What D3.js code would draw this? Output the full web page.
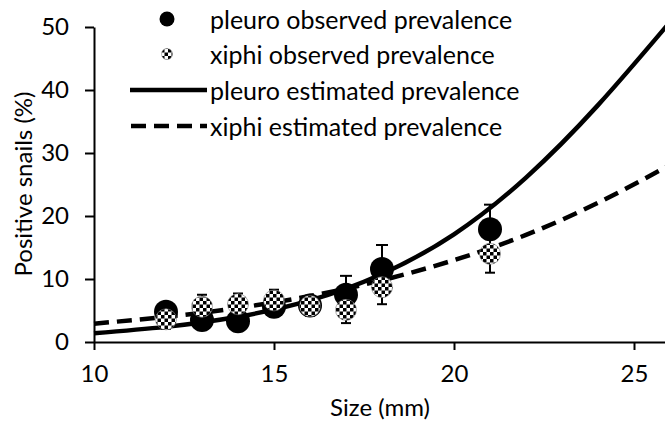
<!DOCTYPE html>
<html><head><meta charset="utf-8">
<script src="https://cdn.jsdelivr.net/npm/d3@7/dist/d3.min.js"></script>
<style>html,body{margin:0;padding:0;background:#fff;overflow:hidden}svg{display:block}text{font-family:Lato,"Open Sans",sans-serif;fill:#000}</style>
</head><body><svg id="c" width="665" height="421"></svg>
<script>
// ---- data ----
const sizes = [12, 13, 14, 15, 16, 17, 18, 21];
const pleuroObs = [4.8, 3.5, 3.3, 5.6, 5.8, 7.5, 11.6, 17.9];
const pleuroErr = [1.4, 1.0, 1.0, 1.0, 1.0, 3.0, 3.8, 3.9];
const xiphiObs = [3.6, 5.6, 6.0, 6.6, 5.7, 5.1, 8.7, 14.0];
const xiphiErr = [1.5, 1.9, 1.7, 1.7, 1.5, 2.1, 2.7, 3.0];
const estSizes = [10, 12, 14, 16, 18, 20, 22, 24, 26];
const pleuroEst = [1.4, 2.4, 4.0, 6.6, 10.8, 17.1, 26.1, 37.6, 50.8];
const xiphiEst = [2.9, 4.0, 5.4, 7.3, 9.8, 13.0, 17.0, 22.1, 28.1];
const xTicks = [10, 15, 20, 25];
const yTicks = [0, 10, 20, 30, 40, 50];
const legendLabels = ["pleuro observed prevalence", "xiphi observed prevalence", "pleuro estimated prevalence", "xiphi estimated prevalence"];
const xTitle = "Size (mm)";
const yTitle = "Positive snails (%)";

// ---- drawing ----
const svg = d3.select("#c");
svg.append("rect").attr("width", 665).attr("height", 421).attr("fill", "#fff");
const x = d3.scaleLinear().domain([10, 26]).range([94, 670]);
const y = d3.scaleLinear().domain([0, 50]).range([342, 27]);
const FS = 24, LFS = 25;

const defs = svg.append("defs");
const pat = defs.append("pattern").attr("id", "chk").attr("patternUnits", "userSpaceOnUse")
  .attr("width", 7).attr("height", 7);
pat.append("rect").attr("width", 7).attr("height", 7).attr("fill", "#fff");
pat.append("rect").attr("width", 3.5).attr("height", 3.5).attr("fill", "#000");
pat.append("rect").attr("x", 3.5).attr("y", 3.5).attr("width", 3.5).attr("height", 3.5).attr("fill", "#000");

// axes
const gx = svg.append("g").attr("transform", "translate(0,342)")
  .call(d3.axisBottom(x).tickValues(xTicks).tickSize(8).tickPadding(14).tickSizeOuter(0));
const gy = svg.append("g").attr("transform", "translate(94,0)")
  .call(d3.axisLeft(y).tickValues(yTicks).tickSize(9).tickPadding(16).tickSizeOuter(0));
[gx, gy].forEach(g => {
  g.select(".domain").attr("stroke", "#000").attr("stroke-width", 2);
  g.selectAll(".tick line").attr("stroke", "#000").attr("stroke-width", 2);
  g.selectAll(".tick text").attr("font-size", FS).attr("font-family", "Lato").attr("fill", "#000");
});
gx.selectAll(".tick text").attr("dy", "0.75em");

svg.append("text").attr("x", 380).attr("y", 406).attr("text-anchor", "middle")
  .attr("dominant-baseline", "central").attr("font-size", FS).text(xTitle);
svg.append("text").attr("transform", "translate(22,184) rotate(-90)").attr("text-anchor", "middle")
  .attr("dominant-baseline", "central").attr("font-size", FS).text(yTitle);

// estimated curves
const line = d3.line().x(d => x(d[0])).y(d => y(d[1])).curve(d3.curveNatural);
svg.append("path").attr("d", line(estSizes.map((s, i) => [s, pleuroEst[i]])))
  .attr("fill", "none").attr("stroke", "#000").attr("stroke-width", 4.5);
svg.append("path").attr("d", line(estSizes.map((s, i) => [s, xiphiEst[i]])))
  .attr("fill", "none").attr("stroke", "#000").attr("stroke-width", 4.5)
  .attr("stroke-dasharray", "15,8");

// error bars
function errBars(vals, errs, cap) {
  const g = svg.append("g").attr("stroke", "#000").attr("stroke-width", 2);
  sizes.forEach((s, i) => {
    const cx = x(s), y1 = y(vals[i] - errs[i]), y2 = y(vals[i] + errs[i]);
    g.append("line").attr("x1", cx).attr("x2", cx).attr("y1", y1).attr("y2", y2);
    g.append("line").attr("x1", cx - cap).attr("x2", cx + cap).attr("y1", y1).attr("y2", y1);
    g.append("line").attr("x1", cx - cap).attr("x2", cx + cap).attr("y1", y2).attr("y2", y2);
  });
}
errBars(pleuroObs, pleuroErr, 6);
errBars(xiphiObs, xiphiErr, 5);

// points
svg.append("g").selectAll("circle").data(sizes).join("circle")
  .attr("cx", d => x(d)).attr("cy", (d, i) => y(pleuroObs[i])).attr("r", 12).attr("fill", "#000");
svg.append("g").selectAll("circle").data(sizes).join("circle")
  .attr("cx", d => x(d)).attr("cy", (d, i) => y(xiphiObs[i])).attr("r", 10.5)
  .attr("fill", "url(#chk)").attr("stroke", "#777").attr("stroke-width", 0.6);

// legend
const ly = [19, 54, 90, 126];
const lg = svg.append("g");
lg.append("circle").attr("cx", 167).attr("cy", ly[0]).attr("r", 7.5).attr("fill", "#000");
lg.append("circle").attr("cx", 167).attr("cy", ly[1]).attr("r", 5.5).attr("fill", "url(#chk)")
  .attr("stroke", "#777").attr("stroke-width", 0.5);
lg.append("line").attr("x1", 130).attr("x2", 207).attr("y1", ly[2]).attr("y2", ly[2])
  .attr("stroke", "#000").attr("stroke-width", 4.5);
lg.append("line").attr("x1", 131).attr("x2", 207).attr("y1", ly[3]).attr("y2", ly[3])
  .attr("stroke", "#000").attr("stroke-width", 4.5).attr("stroke-dasharray", "15,8");
legendLabels.forEach((t, i) => {
  lg.append("text").attr("x", 210).attr("y", ly[i]).attr("dominant-baseline", "central")
    .attr("font-size", LFS).text(t);
});
</script></body></html>
